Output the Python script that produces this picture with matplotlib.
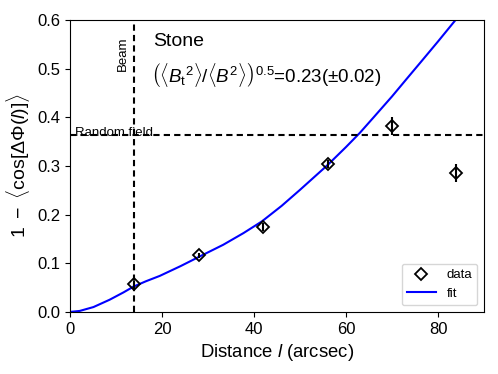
import matplotlib
matplotlib.use("Agg")
import matplotlib.pyplot as plt
import numpy as np

plt.rcParams['font.family'] = ['Liberation Sans', 'DejaVu Sans']
plt.rcParams['mathtext.fontset'] = 'custom'
plt.rcParams['mathtext.rm'] = 'Liberation Sans'
plt.rcParams['mathtext.it'] = 'Liberation Sans:italic'
plt.rcParams['mathtext.bf'] = 'Liberation Sans:bold'

# data points
dist = [14, 28, 42, 56, 70, 84]
val = [0.057, 0.116, 0.175, 0.304, 0.382, 0.286]
err = [0.006, 0.006, 0.008, 0.008, 0.019, 0.018]

# fit curve
fit_x = [0, 2.1, 5.1, 8.6, 11.6, 13.8, 16.5, 19.5, 24, 28.2, 33.3, 37.7, 41.7, 46, 50, 54,
         56, 60, 63, 66, 70, 73, 76.2, 80, 83.8, 85]
fit_y = [0, 0.002, 0.010, 0.025, 0.040, 0.052, 0.063, 0.074, 0.094, 0.114, 0.138, 0.162, 0.186, 0.218, 0.251, 0.285,
         0.302, 0.339, 0.368, 0.400, 0.443, 0.477, 0.513, 0.556, 0.600, 0.614]

beam = 14
random_field = 0.364

fig = plt.figure(figsize=(4.98, 3.74), dpi=100)
ax = fig.add_axes([0.1406, 0.166, 0.8314, 0.7805])

ax.errorbar(dist, val, yerr=err, fmt='none', ecolor='black', elinewidth=1.5, capsize=0, zorder=3)
pts, = ax.plot(dist, val, 'D', mfc='none', mec='black', ms=6, mew=1.3, label='data', zorder=4)
fit, = ax.plot(fit_x, fit_y, color='blue', lw=1.5, label='fit')

dash = (0, (3, 2))
ax.axvline(beam, color='black', ls=dash, lw=1.5)
ax.axhline(random_field, color='black', ls=dash, lw=1.5)

ax.text(11.4, 0.53, 'Beam', rotation=90, ha='center', va='center', fontsize=9.5)
ax.text(1.0, 0.367, 'Random field', ha='left', va='center', fontsize=9.5)
ax.text(18, 0.556, 'Stone', fontsize=14, ha='left', va='center')
ax.text(17.5, 0.487,
        r'$\left(\langle {B_{\mathrm{t}}}^2\rangle/\langle B^2\rangle\right)^{0.5}$=0.23($\pm$0.02)',
        fontsize=13.5, ha='left', va='center')

ax.set_xlim(0, 90)
ax.set_ylim(0, 0.6)
ax.set_xticks([0, 20, 40, 60, 80])
ax.set_yticks([0.0, 0.1, 0.2, 0.3, 0.4, 0.5, 0.6])
ax.tick_params(labelsize=12)
ax.set_xlabel(r'Distance $l$ (arcsec)', fontsize=13.3)
ax.set_ylabel(r'$1\ -\ \langle\cos[\Delta\mathit{\Phi}(l)]\rangle$', fontsize=14)

ax.legend(handles=[pts, fit], loc='lower right', fontsize=9.5, handlelength=2.2)

fig.savefig('out.png', dpi=100)
